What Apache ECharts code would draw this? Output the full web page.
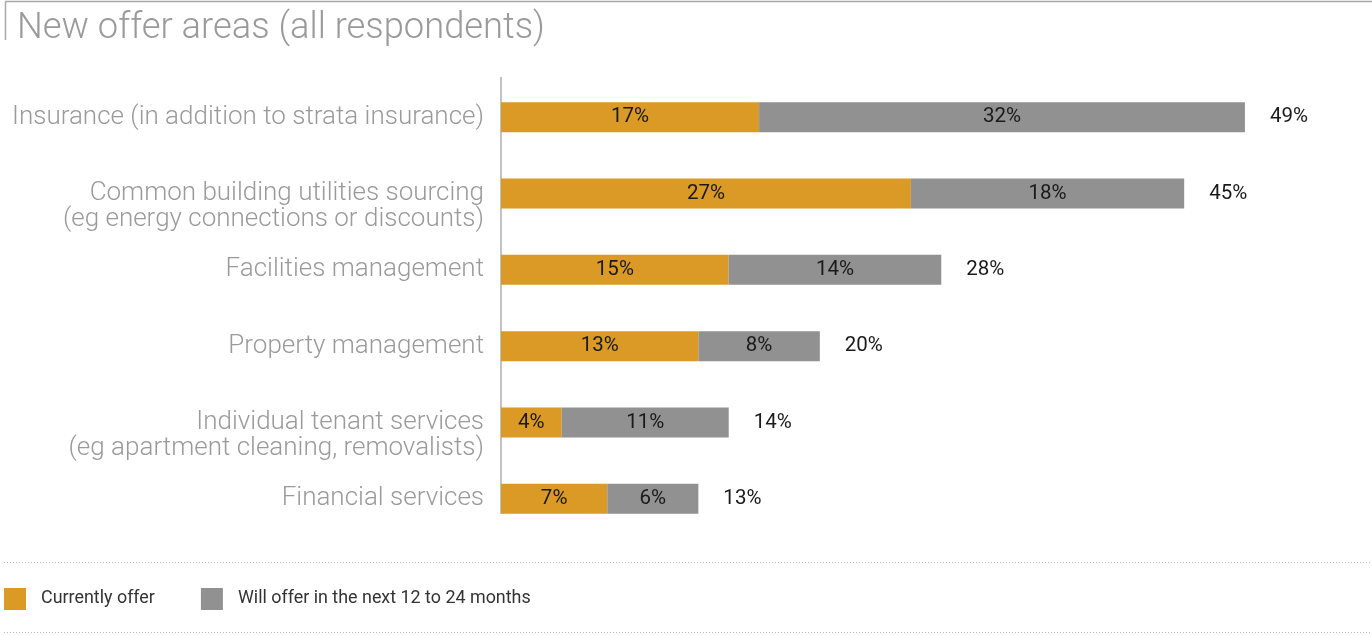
<!DOCTYPE html>
<html>
<head>
<meta charset="utf-8">
<script src="https://cdn.jsdelivr.net/npm/echarts@6/dist/echarts.min.js"></script>
<style>
  html, body { margin: 0; padding: 0; background: #fff; }
  #chart { width: 1372px; height: 635px; }
</style>
</head>
<body>
<div id="chart"></div>
<script>
// Offer areas, top to bottom
const categories = [
  'Insurance (in addition to strata insurance)',
  'Common building utilities sourcing\n(eg energy connections or discounts)',
  'Facilities management',
  'Property management',
  'Individual tenant services\n(eg apartment cleaning, removalists)',
  'Financial services'
];
// Share of respondents (%)
const currentlyOffer = [17, 27, 15, 13, 4, 7];
const willOffer = [32, 18, 14, 8, 11, 6];
// Reported totals (rounded separately)
const totals = [49, 45, 28, 20, 14, 13];

const seriesNames = ['Currently offer', 'Will offer in the next 12 to 24 months'];
const ORANGE = '#DA9A25';
const GREY = '#919191';
const FONT = 'Roboto, "Liberation Sans", sans-serif';

const chart = echarts.init(document.getElementById('chart'), null, { renderer: 'canvas' });

const insideLabel = {
  show: true,
  position: 'inside',
  color: '#1a1a1a',
  fontFamily: FONT,
  fontSize: 20.5,
  formatter: p => p.value + '%'
};

chart.setOption({
  animation: false,
  title: {
    text: 'New offer areas (all respondents)',
    left: 12,
    top: 6,
    textStyle: { color: '#9a9a9a', fontFamily: FONT, fontWeight: 300, fontSize: 36.3 }
  },
  legend: {
    left: 4,
    top: 588,
    padding: 0,
    itemWidth: 22,
    itemHeight: 22,
    itemGap: 46,
    icon: 'rect',
    selectedMode: false,
    data: seriesNames,
    textStyle: { color: '#333', fontFamily: FONT, fontSize: 17.9, padding: [0, 0, 0, 10] }
  },
  grid: { left: 501, right: 36, top: 79, bottom: 98, containLabel: false },
  xAxis: {
    type: 'value',
    min: 0,
    max: 55,
    show: false
  },
  yAxis: {
    type: 'category',
    inverse: true,
    data: categories,
    axisLine: { show: false },
    axisTick: { show: false },
    axisLabel: {
      margin: 17,
      color: '#9a9a9a',
      fontFamily: FONT,
      fontWeight: 300,
      fontSize: 26,
      lineHeight: 26,
      align: 'right',
      // keep the first line of a two-line label level with its bar
      formatter: v => (v.indexOf('\n') >= 0 ? ' \n' + v : v)
    }
  },
  series: [
    {
      name: seriesNames[0],
      type: 'bar',
      stack: 'offer',
      barWidth: 30,
      itemStyle: { color: ORANGE },
      label: insideLabel,
      data: currentlyOffer
    },
    {
      name: seriesNames[1],
      type: 'bar',
      stack: 'offer',
      barWidth: 30,
      itemStyle: { color: GREY },
      label: insideLabel,
      data: willOffer
    },
    {
      name: 'total',
      type: 'bar',
      stack: 'offer',
      barWidth: 30,
      itemStyle: { color: 'transparent' },
      label: {
        show: true,
        position: 'right',
        distance: 25,
        color: '#1a1a1a',
        fontFamily: FONT,
        fontSize: 20.5,
        formatter: p => totals[p.dataIndex] + '%'
      },
      data: totals.map(() => 0)
    }
  ],
  graphic: [
    // frame around the heading
    { type: 'line', shape: { x1: 5, y1: 1.5, x2: 1372, y2: 1.5 }, style: { stroke: '#a8a8a8', lineWidth: 1.5 } },
    { type: 'line', shape: { x1: 5.5, y1: 1.5, x2: 5.5, y2: 40 }, style: { stroke: '#a8a8a8', lineWidth: 1.5 } },
    // vertical axis rule
    { type: 'line', shape: { x1: 501, y1: 77, x2: 501, y2: 514 }, style: { stroke: '#9a9a9a', lineWidth: 1.2 } },
    // dotted separators around the legend
    { type: 'line', shape: { x1: 4, y1: 562.5, x2: 1372, y2: 562.5 }, style: { stroke: '#b8b8b8', lineWidth: 1, lineDash: [1, 2] } },
    { type: 'line', shape: { x1: 4, y1: 632.5, x2: 1372, y2: 632.5 }, style: { stroke: '#b8b8b8', lineWidth: 1, lineDash: [1, 2] } }
  ]
});
</script>
</body>
</html>
